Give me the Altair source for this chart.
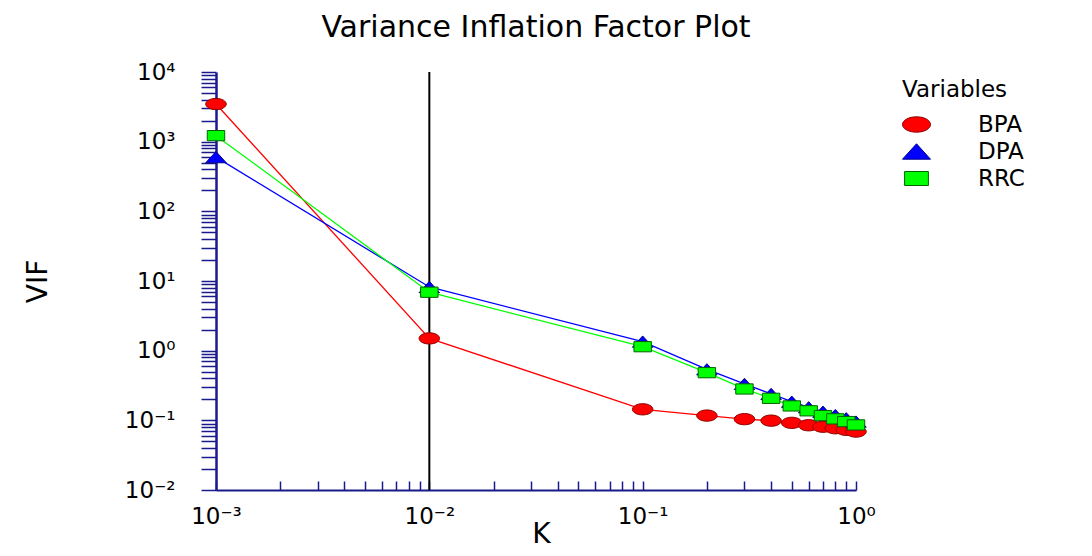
import json
import altair as alt
import pandas as pd

# ---- data ----
K = [0.001, 0.01, 0.1, 0.2, 0.3, 0.4, 0.5, 0.6, 0.7, 0.8, 0.9, 1.0]
BPA = [3470, 1.5, 0.144, 0.117, 0.104, 0.099, 0.092, 0.085, 0.081, 0.077, 0.073, 0.069]
DPA = [600, 8.2, 1.35, 0.54, 0.333, 0.239, 0.185, 0.154, 0.133, 0.119, 0.107, 0.096]
RRC = [1220, 6.9, 1.14, 0.483, 0.282, 0.207, 0.161, 0.137, 0.117, 0.105, 0.096, 0.086]
variables = ["BPA", "DPA", "RRC"]
ref_line_k = [0.01]

x_tick_labels = ["10⁻³", "10⁻²", "10⁻¹", "10⁰"]
y_tick_labels = ["10⁻²", "10⁻¹", "10⁰", "10¹", "10²", "10³", "10⁴"]

x_ticks = [m * 10.0 ** e for e in range(-3, 0) for m in range(1, 10)] + [1.0]
y_ticks = [m * 10.0 ** e for e in range(-2, 4) for m in range(1, 10)] + [10000.0]

rows = []
for name, vals in zip(variables, [BPA, DPA, RRC]):
    for k, v in zip(K, vals):
        rows.append({"K": k, "VIF": v, "Variable": name})
df = pd.DataFrame(rows)
df_rule = pd.DataFrame({"K": ref_line_k})

NAVY = "#1a1a8c"
FONT = "DejaVu Sans"
W, H = 640, 418

bright = ["#ff0000", "#0000ff", "#00ff00"]
dark = ["#8b0000", "#00008b", "#006400"]
shapes = [
    "M -1 0 A 1 0.55 0 1 0 1 0 A 1 0.55 0 1 0 -1 0 Z",
    "M -1 0.55 L 1 0.55 L 0 -0.55 Z",
    "M -0.85 -0.5 L 0.85 -0.5 L 0.85 0.5 L -0.85 0.5 Z",
]

def label_expr(labels, offset):
    arr = json.dumps(labels, ensure_ascii=False)
    lg = "(log(datum.value)/LN10)"
    return (f"abs({lg} - round({lg})) < 0.001 ? {arr}[round({lg}) + {offset}] : ''")

xscale = alt.Scale(type="log", domain=[0.001, 1], nice=False)
yscale = alt.Scale(type="log", domain=[0.01, 10000], nice=False)

x_axis = alt.Axis(
    values=x_ticks, labelExpr=label_expr(x_tick_labels, 3), ticks=False,
    domainColor=NAVY, domainWidth=2, labelFont=FONT, labelFontSize=23,
    labelColor="black", labelPadding=15, labelOverlap=False, labelFlush=False,
    grid=False, title="K", titleFont=FONT, titleFontSize=28,
    titleFontWeight="normal", titleColor="black", titleX=325, titleY=44,
    titleBaseline="middle",
)
y_axis = alt.Axis(
    values=y_ticks, labelExpr=label_expr(y_tick_labels, 2), tickSize=15,
    tickWidth=1.5, tickColor=NAVY, domainColor=NAVY, domainWidth=2.5,
    labelFont=FONT, labelFontSize=23, labelColor="black", labelPadding=26,
    labelOverlap=False, labelFlush=False, grid=False, title="VIF",
    titleFont=FONT, titleFontSize=28, titleFontWeight="normal",
    titleColor="black", titleX=-178, titleY=209, titleBaseline="middle",
    titleAlign="center",
)
x_top_ticks = alt.Axis(
    orient="top", offset=-H, values=x_ticks, labels=False, domain=False,
    tickSize=9, tickWidth=1.5, tickColor=NAVY, grid=False, title=None,
)

legend = alt.Legend(
    title="Variables", orient="none", legendX=686, legendY=7,
    titleFont=FONT, titleFontSize=23, titleFontWeight="normal",
    titleColor="black", titlePadding=8, labelFont=FONT, labelFontSize=23,
    labelColor="black", labelOffset=47, symbolSize=784, symbolStrokeWidth=1,
    rowPadding=0, padding=0,
)

line_layers = []
for i, (name, c) in enumerate(zip(variables, bright)):
    line_layers.append(
        alt.Chart(df)
        .transform_filter(alt.datum.Variable == name)
        .mark_line(strokeWidth=1.3, color=c)
        .encode(
            x=alt.X("K:Q", scale=xscale, axis=x_axis if i == 0 else None),
            y=alt.Y("VIF:Q", scale=yscale, axis=y_axis),
        )
    )

rule = alt.Chart(df_rule).mark_rule(color="black", strokeWidth=2).encode(
    x=alt.X("K:Q", scale=xscale, axis=x_top_ticks),
)

points = alt.Chart(df).mark_point(filled=True, opacity=1, size=420, strokeWidth=1).encode(
    x=alt.X("K:Q", scale=xscale, axis=None),
    y=alt.Y("VIF:Q", scale=yscale, axis=y_axis),
    fill=alt.Fill("Variable:N", scale=alt.Scale(domain=variables, range=bright), legend=legend),
    stroke=alt.Stroke("Variable:N", scale=alt.Scale(domain=variables, range=dark), legend=legend),
    shape=alt.Shape("Variable:N", scale=alt.Scale(domain=variables, range=shapes), legend=legend),
)

chart = (
    alt.layer(*line_layers, rule, points)
    .resolve_axis(x="independent")
    .properties(
        width=W, height=H,
        padding={"left": 208, "top": 64, "right": 228, "bottom": 58},
        autosize=alt.AutoSizeParams(type="none"),
        title=alt.TitleParams(
            "Variance Inflation Factor Plot", font=FONT, fontSize=30,
            fontWeight="normal", color="black", anchor="middle", offset=18,
        ),
    )
    .configure(background="white")
    .configure_view(strokeWidth=0)
)

chart.save("out.html", embed_options={"renderer": "svg", "actions": False})
